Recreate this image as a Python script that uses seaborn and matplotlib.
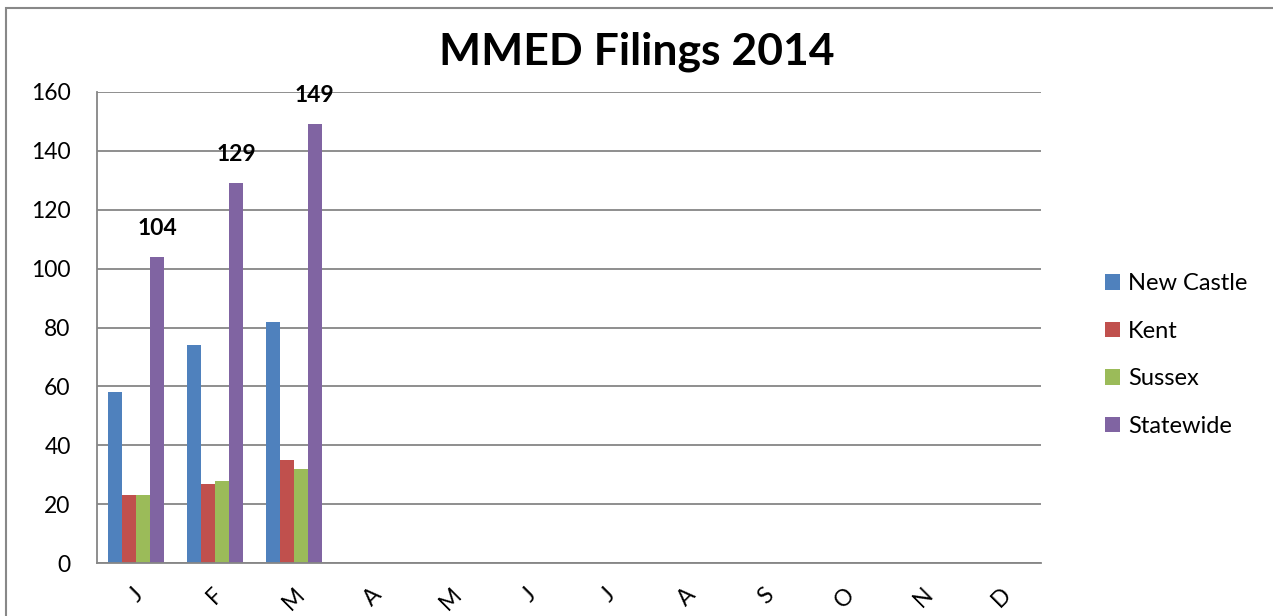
import pandas as pd
import numpy as np
import seaborn as sns
import matplotlib.pyplot as plt
from matplotlib.patches import Rectangle

# month keys must be unique for seaborn, letters go on the ticks
month_keys = ['Jan', 'Feb', 'Mar', 'Apr', 'May', 'Jun',
              'Jul', 'Aug', 'Sep', 'Oct', 'Nov', 'Dec']
month_labels = ['J', 'F', 'M', 'A', 'M', 'J', 'J', 'A', 'S', 'O', 'N', 'D']

counties = ['New Castle', 'Kent', 'Sussex', 'Statewide']
filed_months = ['Jan', 'Feb', 'Mar']
new_castle = [58, 74, 82]
kent = [23, 27, 35]
sussex = [23, 28, 32]
statewide = [104, 129, 149]

colors = {'New Castle': '#4F81BD', 'Kent': '#C0504D',
          'Sussex': '#9BBB59', 'Statewide': '#8064A2'}

# long form table for seaborn
rows = []
for county, vals in zip(counties, [new_castle, kent, sussex, statewide]):
    for m, v in zip(filed_months, vals):
        rows.append({'month': m, 'county': county, 'filings': v})
df = pd.DataFrame(rows)

sns.set_style('white')
plt.rcParams['font.family'] = ['Lato', 'DejaVu Sans']
plt.rcParams['text.color'] = 'black'
plt.rcParams['xtick.labelcolor'] = 'black'
plt.rcParams['ytick.labelcolor'] = 'black'

W, H = 1273, 616
fig = plt.figure(figsize=(W / 100, H / 100), dpi=100)
ax = fig.add_axes([97 / W, 53 / H, 944 / W, 471 / H])

sns.barplot(data=df, x='month', y='filings', hue='county',
            order=month_keys, hue_order=counties, palette=colors,
            width=0.71, gap=0, saturation=1, linewidth=0, ax=ax)

# value labels on statewide bars
ax.bar_label(ax.containers[3], fmt='%d', padding=13,
             fontsize=16.5, fontweight='bold', color='black')

grid_col = '#868686'
ax.set_ylim(0, 160)
ax.set_yticks(range(0, 161, 20))
ax.yaxis.grid(True, color=grid_col, linewidth=1.3)
ax.set_axisbelow(True)
ax.tick_params(axis='y', length=6, width=1.3, color=grid_col, pad=13,
               labelsize=16.5, labelcolor='black')

ax.set_xlim(-0.5, 11.5)
ax.set_xticks(range(12))
ax.set_xticklabels(month_labels, rotation=45, ha='center')
ax.set_xticks(np.arange(-0.5, 12, 1), minor=True)
ax.tick_params(axis='x', which='major', length=0, pad=15, labelsize=16.5,
               labelcolor='black')
ax.tick_params(axis='x', which='minor', length=6, width=1.3, color=grid_col)
ax.set_xlabel('')
ax.set_ylabel('')

for side in ['top', 'right']:
    ax.spines[side].set_visible(False)
for side in ['left', 'bottom']:
    ax.spines[side].set_color(grid_col)
    ax.spines[side].set_linewidth(1.3)

# legend on the right
leg = ax.legend(title=None, loc='center left', bbox_to_anchor=(1105 / W, 261 / H),
                bbox_transform=fig.transFigure, frameon=False, fontsize=17,
                handlelength=0.62, handleheight=0.62, handletextpad=0.35,
                labelspacing=1.12, borderpad=0, borderaxespad=0)
for t in leg.get_texts():
    t.set_color('black')

fig.text(0.5, (H - 65) / H, 'MMED Filings 2014', ha='center', va='baseline',
         fontsize=32, fontweight='bold', color='black')

# chart area border (right and bottom edges fall outside the image)
fig.patches.append(Rectangle((6 / W, -0.1), 1.2, (H - 8) / H + 0.1,
                             transform=fig.transFigure, fill=False,
                             edgecolor='#888888', linewidth=1.5))

fig.savefig('out.png', dpi=100)
